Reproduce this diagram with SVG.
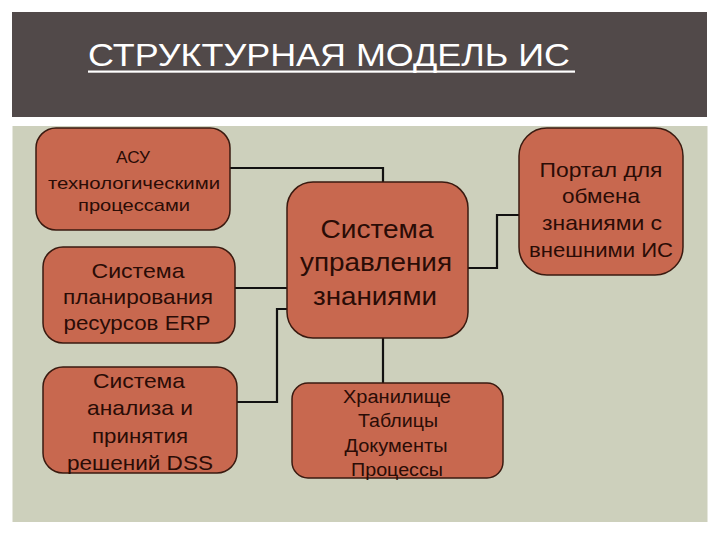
<svg xmlns="http://www.w3.org/2000/svg" width="720" height="540" viewBox="0 0 720 540">
<style>
.node rect{fill:#C8684F;stroke:#3A1A10;stroke-width:1.5}
.node text{font-family:"Liberation Sans",Arial,sans-serif;fill:#2A0C06;text-anchor:middle}
.conn path{fill:none;stroke:#111;stroke-width:2.2}
.title{font-family:"Liberation Sans",Arial,sans-serif;font-size:32px;fill:#FFFFFF}
</style>
<rect x="0" y="0" width="720" height="540" fill="#FFFFFF"/>
<rect x="12" y="12" width="695" height="105" fill="#514949"/>
<rect x="12.5" y="126" width="695" height="396" fill="#CDD0BC"/>
<text class="title" x="88" y="66" textLength="482" lengthAdjust="spacingAndGlyphs">СТРУКТУРНАЯ МОДЕЛЬ ИС</text>
<rect x="88" y="70.5" width="487" height="2.2" fill="#FFFFFF"/>
<g class="conn" id="connectors">
<path d="M230,168 H383 V182"/>
<path d="M235,288 H287"/>
<path d="M237,402 H277 V309 H287"/>
<path d="M383,338 V383"/>
<path d="M468,268 H497 V215 H519"/>
</g>
<g class="node" id="n-asu">
<rect x="36" y="128" width="194" height="102" rx="20"/>
<text font-size="16.5"><tspan x="133" y="163" textLength="34" lengthAdjust="spacingAndGlyphs">АСУ</tspan><tspan x="134" y="189" textLength="172" lengthAdjust="spacingAndGlyphs">технологическими</tspan><tspan x="134" y="211" textLength="112" lengthAdjust="spacingAndGlyphs">процессами</tspan></text>
</g>
<g class="node" id="n-erp">
<rect x="43" y="247" width="192" height="96" rx="20"/>
<text font-size="21"><tspan x="138" y="278" textLength="93" lengthAdjust="spacingAndGlyphs">Система</tspan><tspan x="138" y="304" textLength="150" lengthAdjust="spacingAndGlyphs">планирования</tspan><tspan x="137" y="330" textLength="147" lengthAdjust="spacingAndGlyphs">ресурсов ERP</tspan></text>
</g>
<g class="node" id="n-dss">
<rect x="43" y="367" width="194" height="106" rx="20"/>
<text font-size="21"><tspan x="139" y="388" textLength="92" lengthAdjust="spacingAndGlyphs">Система</tspan><tspan x="140" y="415" textLength="106" lengthAdjust="spacingAndGlyphs">анализа и</tspan><tspan x="140" y="443" textLength="96" lengthAdjust="spacingAndGlyphs">принятия</tspan><tspan x="140" y="470" textLength="146" lengthAdjust="spacingAndGlyphs">решений DSS</tspan></text>
</g>
<g class="node" id="n-km">
<rect x="287" y="182" width="181" height="156" rx="26"/>
<text font-size="25"><tspan x="377" y="238" textLength="113" lengthAdjust="spacingAndGlyphs">Система</tspan><tspan x="376" y="271" textLength="152" lengthAdjust="spacingAndGlyphs">управления</tspan><tspan x="375" y="305" textLength="124" lengthAdjust="spacingAndGlyphs">знаниями</tspan></text>
</g>
<g class="node" id="n-store">
<rect x="292" y="383" width="211" height="95" rx="16"/>
<text font-size="18"><tspan x="397" y="403" textLength="108" lengthAdjust="spacingAndGlyphs">Хранилище</tspan><tspan x="398" y="427" textLength="80" lengthAdjust="spacingAndGlyphs">Таблицы</tspan><tspan x="396" y="452" textLength="103" lengthAdjust="spacingAndGlyphs">Документы</tspan><tspan x="397" y="476" textLength="92" lengthAdjust="spacingAndGlyphs">Процессы</tspan></text>
</g>
<g class="node" id="n-portal">
<rect x="519" y="128" width="164" height="147" rx="28"/>
<text font-size="21"><tspan x="601" y="177" textLength="123" lengthAdjust="spacingAndGlyphs">Портал для</tspan><tspan x="601" y="203" textLength="78" lengthAdjust="spacingAndGlyphs">обмена</tspan><tspan x="602" y="230" textLength="120" lengthAdjust="spacingAndGlyphs">знаниями с</tspan><tspan x="601" y="257" textLength="144" lengthAdjust="spacingAndGlyphs">внешними ИС</tspan></text>
</g>
</svg>
